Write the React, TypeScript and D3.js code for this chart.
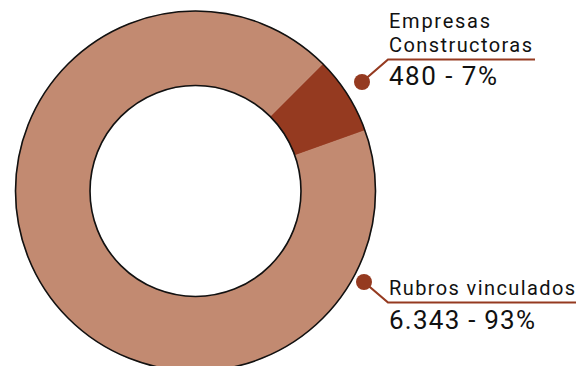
import React, { useEffect, useRef } from 'react'
import * as d3 from 'd3'

const categories = ['Empresas Constructoras', 'Rubros vinculados']
const values = [480, 6343]
const valueLabels = ['480 - 7%', '6.343 - 93%']
const colors = ['#953a20', '#c28a71']

export default function App() {
  const ref = useRef<SVGSVGElement | null>(null)

  useEffect(() => {
    if (!ref.current) return
    const svg = d3.select(ref.current)
    svg.selectAll('*').remove()

    const cx = 195.5
    const cy = 191
    const outerR = 180
    const innerR = 105.5

    const g = svg.append('g').attr('transform', `translate(${cx},${cy})`)

    const pie = d3
      .pie<number>()
      .sort(null)
      .startAngle(Math.PI / 4)
      .endAngle(Math.PI / 4 + Math.PI * 2)
    const arcs = pie(values)
    const arc = d3.arc<d3.PieArcDatum<number>>().innerRadius(innerR).outerRadius(outerR)

    g.selectAll('path.slice')
      .data(arcs)
      .join('path')
      .attr('class', 'slice')
      .attr('d', arc)
      .attr('fill', (_, i) => colors[i])
      .attr('stroke', (_, i) => colors[i])
      .attr('stroke-width', 0.5)

    // outline only on the rings, not the slice edges
    for (const r of [outerR, innerR]) {
      g.append('circle')
        .attr('r', r)
        .attr('fill', 'none')
        .attr('stroke', '#111')
        .attr('stroke-width', 1.6)
    }

    // label callouts (widths matched to the condensed-ish DIN look of the original)
    const callouts = [
      {
        dot: [362, 82], elbow: [388, 59.5], end: 535,
        lines: ['Empresas', 'Constructoras'], widths: [101, 143], nameY: [28, 52],
        valY: 85, valW: 108,
      },
      {
        dot: [364, 282], elbow: [388, 302.5], end: 576,
        lines: ['Rubros vinculados'], widths: [186], nameY: [295],
        valY: 329, valW: 146,
      },
    ]
    const lab = svg.append('g').style('font-family', 'Roboto, "Noto Sans", sans-serif')
    callouts.forEach((c, i) => {
      lab.append('path')
        .attr('d', `M${c.dot[0]},${c.dot[1]}L${c.elbow[0]},${c.elbow[1]}H${c.end}`)
        .attr('fill', 'none')
        .attr('stroke', colors[0])
        .attr('stroke-width', 2.2)
      lab.append('circle')
        .attr('cx', c.dot[0])
        .attr('cy', c.dot[1])
        .attr('r', 8)
        .attr('fill', colors[0])
      c.lines.forEach((t, j) => {
        lab.append('text')
          .attr('x', 389)
          .attr('y', c.nameY[j])
          .attr('font-size', 20)
          .attr('fill', '#111')
          .attr('textLength', c.widths[j])
          .attr('lengthAdjust', 'spacing')
          .text(t)
      })
      lab.append('text')
        .attr('x', 389)
        .attr('y', c.valY)
        .attr('font-size', 26)
        .attr('fill', '#111')
        .attr('textLength', c.valW)
        .attr('lengthAdjust', 'spacing')
        .text(valueLabels[i])
    })
    void categories
  }, [])

  return (
    <svg
      ref={ref}
      width={580}
      height={366}
      style={{ position: 'absolute', left: 0, top: 0, background: '#fff' }}
    />
  )
}
